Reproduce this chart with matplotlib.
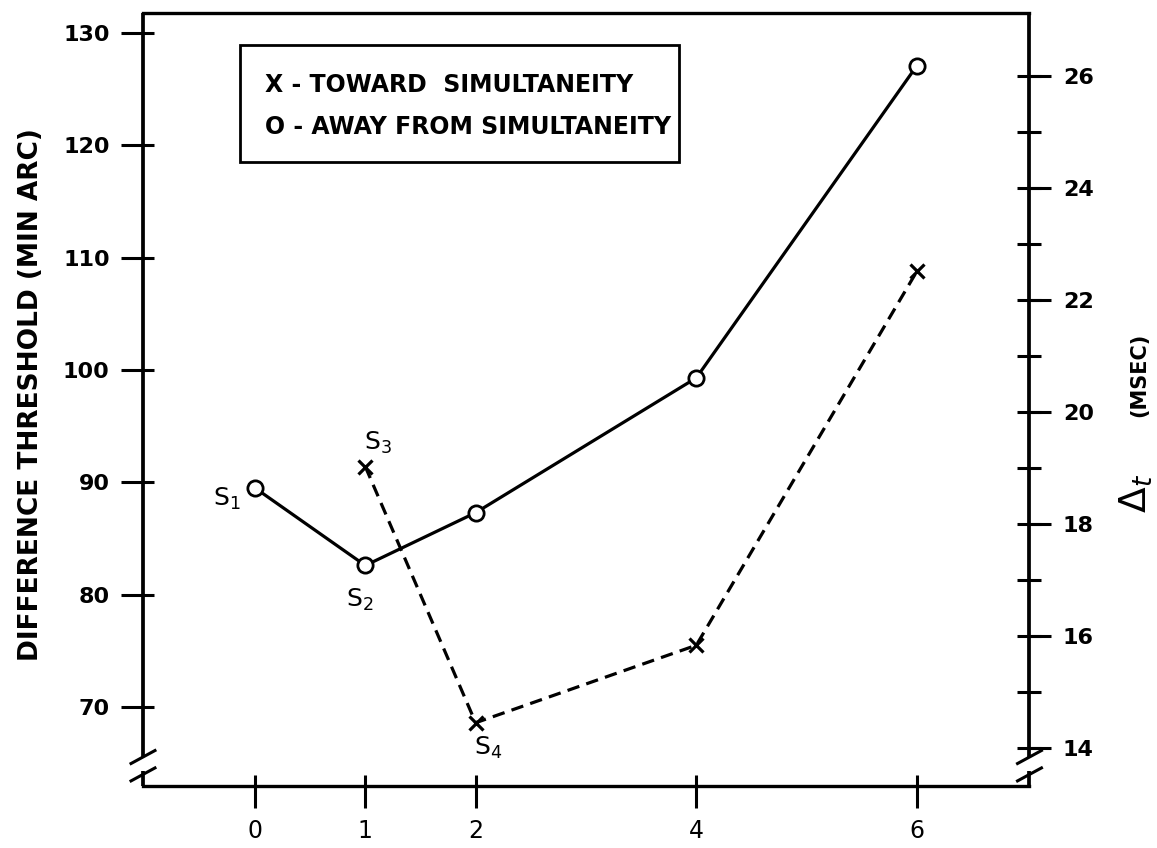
import matplotlib
matplotlib.use("Agg")
import matplotlib.pyplot as plt
from matplotlib.ticker import FixedLocator
from matplotlib.patches import Rectangle

# data (left axis units, min arc)
away_x = [0, 1, 2, 4, 6]
away_y = [89.5, 82.6, 87.3, 99.3, 127.1]
toward_x = [1, 2, 4, 6]
toward_y = [91.4, 68.6, 75.5, 108.8]

x_ticks = [0, 1, 2, 4, 6]
y_ticks = [70, 80, 90, 100, 110, 120, 130]
msec_major = [14, 16, 18, 20, 22, 24, 26]
msec_minor = list(range(14, 27))

# subject labels: (text, series x, series y, offset in points)
subject_labels = [
    ("S$_1$", away_x[0], away_y[0], (-20, -8)),
    ("S$_2$", away_x[1], away_y[1], (-4, -25)),
    ("S$_3$", toward_x[0], toward_y[0], (9, 17)),
    ("S$_4$", toward_x[1], toward_y[1], (9, -18)),
]

Y_LIM = (62.97, 131.78)
X_LIM = (-1.015, 7.02)
# right axis: msec = 14 + (arc - 66.35) / 4.985
MSEC_LIM = tuple(14 + (v - 66.35) / 4.985 for v in Y_LIM)

LW_AX = 2.4
TICK_W = 2.2

fig = plt.figure(figsize=(11.57, 8.48), dpi=100)
ax = fig.add_axes([0.1236, 0.0731, 0.7662, 0.9116])
ax2 = ax.twinx()

# ==========================
# SERIES
# ==========================

ax.plot(away_x, away_y, color="black", lw=2.3, marker="o",
        markersize=11, markerfacecolor="white", markeredgewidth=2.0,
        zorder=3)
ax.plot(toward_x, toward_y, color="black", lw=2.3,
        linestyle=(0, (3.9, 2.3)), marker="x", markersize=10.5,
        markeredgewidth=2.3, zorder=3)

for txt, px, py, off in subject_labels:
    ax.annotate(txt, (px, py), xytext=off, textcoords="offset points",
                ha="center", va="center", fontsize=18)

# ==========================
# AXES
# ==========================

ax.set_xlim(*X_LIM)
ax.set_ylim(*Y_LIM)
ax2.set_ylim(*MSEC_LIM)

for s in ["left", "right"]:
    ax.spines[s].set_visible(False)
for s in ["left", "right", "top", "bottom"]:
    ax2.spines[s].set_visible(False)
ax.spines["top"].set_linewidth(LW_AX)
ax.spines["bottom"].set_linewidth(LW_AX)

# side spines with break marks, drawn in axes fractions
brk_hi, brk_lo = 0.0375, 0.0150
dx, dy = 0.0135, 0.0084
for xs in [0, 1]:
    ax.plot([xs, xs], [brk_hi, 1], transform=ax.transAxes, color="black",
            lw=2.7, clip_on=False, solid_capstyle="butt")
    ax.plot([xs, xs], [0, brk_lo + 0.004], transform=ax.transAxes,
            color="black", lw=2.7, clip_on=False, solid_capstyle="butt")
    for yb in [brk_hi, brk_lo]:
        ax.plot([xs - dx, xs + dx], [yb - dy, yb + dy],
                transform=ax.transAxes, color="black", lw=2.2,
                clip_on=False)

# ticks: long outside, short inside
ax.xaxis.remove_overlapping_locs = False
ax.yaxis.remove_overlapping_locs = False
ax2.yaxis.remove_overlapping_locs = False

ax.set_xticks(x_ticks)
ax.set_xticklabels([str(v) for v in x_ticks])
ax.xaxis.set_minor_locator(FixedLocator(x_ticks))
ax.set_yticks(y_ticks)
ax.set_yticklabels([str(v) for v in y_ticks])
ax.yaxis.set_minor_locator(FixedLocator(y_ticks))

ax.tick_params(which="major", direction="out", length=16, width=TICK_W,
               pad=8)
ax.tick_params(which="minor", direction="in", length=8, width=TICK_W)
ax.tick_params(axis="y", which="both", right=False, labelsize=16)
ax.tick_params(axis="x", which="both", top=False, labelsize=17)
for lab in ax.get_yticklabels():
    lab.set_fontweight("bold")

ax2.set_yticks(msec_major)
ax2.set_yticklabels([str(v) for v in msec_major])
ax2.yaxis.set_minor_locator(FixedLocator(msec_minor))
ax2.tick_params(which="major", direction="out", length=16, width=TICK_W,
                pad=8, labelsize=16)
ax2.tick_params(which="minor", direction="inout", length=17,
                width=TICK_W)
for lab in ax2.get_yticklabels():
    lab.set_fontweight("bold")

# ==========================
# LABELS
# ==========================

fig.text(0.027, 0.535, "DIFFERENCE THRESHOLD (MIN ARC)", rotation=90,
         ha="center", va="center", fontsize=19, fontweight="bold")
fig.text(0.982, 0.418, r"$\Delta_{t}$", rotation=90, ha="center",
         va="center", fontsize=27)
fig.text(0.985, 0.558, "(MSEC)", rotation=90, ha="center",
         va="center", fontsize=15, fontweight="bold")

# legend box with text keys
ax.add_patch(Rectangle((0.109, 0.807), 0.496, 0.152,
                       transform=ax.transAxes, fill=False, lw=2.0,
                       edgecolor="black", zorder=4))
ax.text(0.1375, 0.907, "X - TOWARD  SIMULTANEITY", transform=ax.transAxes,
        ha="left", va="center", fontsize=17, fontweight="bold")
ax.text(0.1375, 0.8525, "O - AWAY FROM SIMULTANEITY",
        transform=ax.transAxes, ha="left", va="center", fontsize=17,
        fontweight="bold")

fig.savefig("out.png", dpi=100)
